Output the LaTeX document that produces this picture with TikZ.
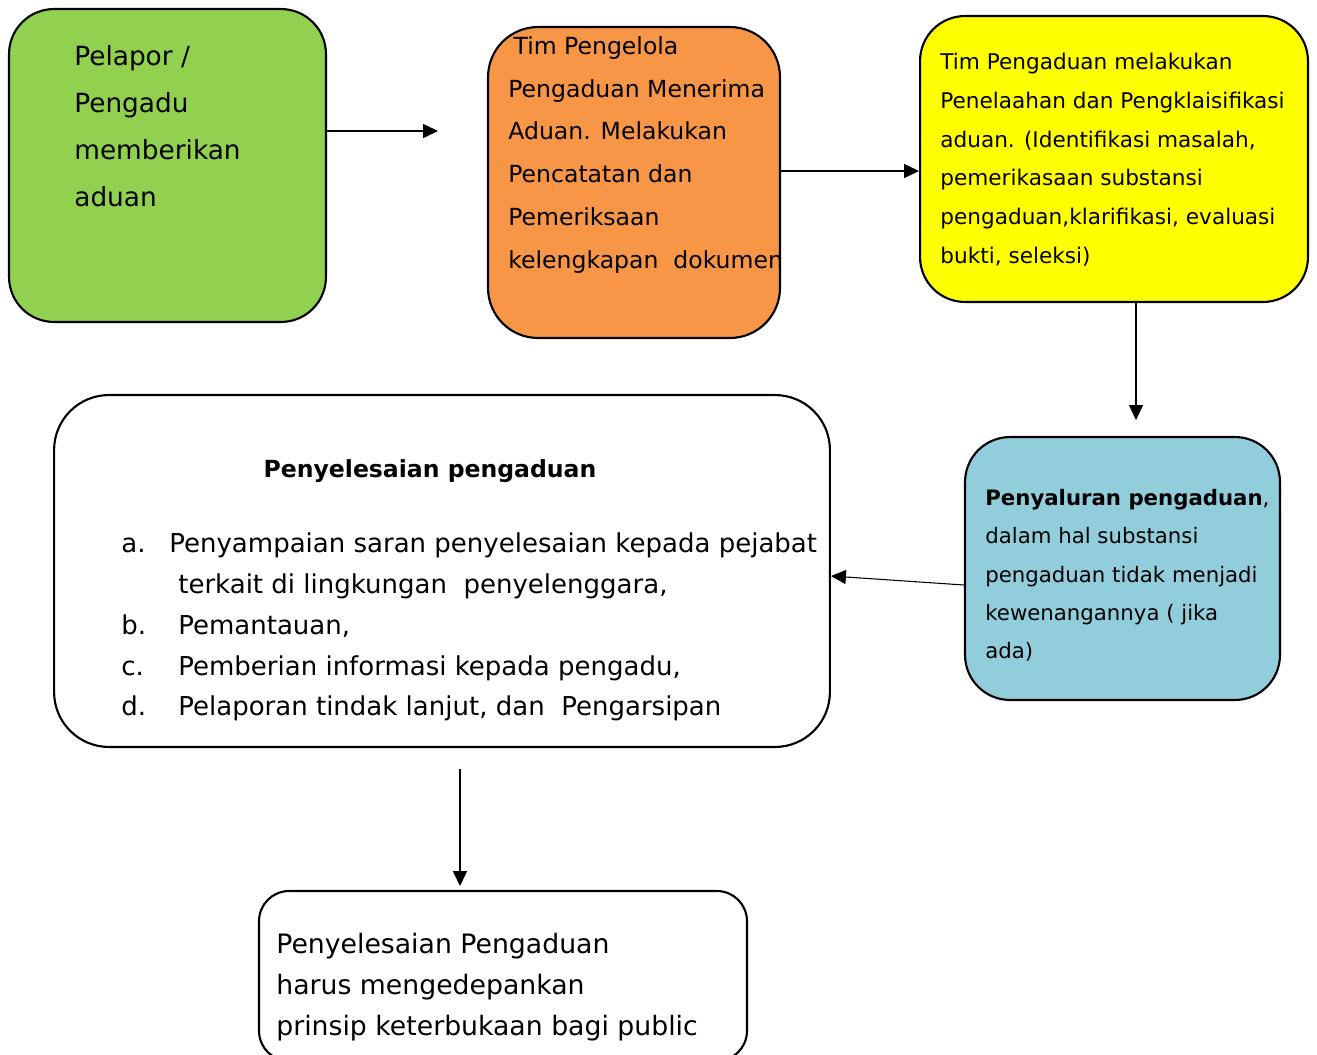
\documentclass[tikz,border=0pt]{standalone}
\usepackage{fontspec}
\setmainfont{DejaVu Sans}
\usetikzlibrary{arrows.meta,positioning,calc}
\definecolor{flowGreen}{HTML}{92D050}
\definecolor{flowOrange}{HTML}{F79646}
\definecolor{flowYellow}{HTML}{FFFF00}
\definecolor{flowBlue}{HTML}{92CDDC}
\tikzset{
  flowBox/.style={draw=black, line width=1.2pt, inner sep=0pt},
  flowText/.style={anchor=north west, inner sep=0pt, align=left},
  %% connector arrows
  flowArrow/.style={-{Triangle[length=8.5pt,width=8pt]}, line width=0.6pt},
}

\begin{document}
\begin{tikzpicture}[x=0.02cm, y=-0.02cm]
\useasboundingbox (0,0) rectangle (1317,1054);

%% boxes
\node[flowBox, fill=flowGreen, rounded corners=0.9cm,
  minimum width=6.34cm, minimum height=6.26cm] (nPelapor) at (167.5,165.5) {};
\node[flowBox, fill=flowOrange, rounded corners=1.0cm,
  minimum width=5.84cm, minimum height=6.22cm] (nTim) at (634,182.5) {};
\node[flowBox, fill=flowYellow, rounded corners=0.9cm,
  minimum width=7.76cm, minimum height=5.72cm] (nTelaah) at (1114,159) {};
\node[flowBox, fill=flowBlue, rounded corners=0.9cm,
  minimum width=6.30cm, minimum height=5.26cm] (nSalur) at (1122.5,568.5) {};
\node[flowBox, fill=white, rounded corners=1.1cm,
  minimum width=15.52cm, minimum height=7.04cm] (nSelesai) at (442,571) {};
\node[flowBox, fill=white, rounded corners=0.6cm,
  minimum width=9.76cm, minimum height=3.4cm] (nPrinsip) at (503,976) {};

%% texts
\node[flowText, font=\fontsize{15}{26.7}\selectfont] (tPelapor) at (74,45)
  {Pelapor /\\Pengadu\\memberikan\\aduan};
\node[flowText, font=\fontsize{13.4}{24.4}\selectfont] (tTim) at (508,36)
  {\hspace*{3pt}Tim Pengelola\\Pengaduan Menerima\\Aduan. Melakukan\\Pencatatan dan\\Pemeriksaan\\kelengkapan\ \ dokumen};
\node[flowText, font=\fontsize{12.3}{22}\selectfont] (tTelaah) at (940,53)
  {Tim Pengaduan melakukan\\Penelaahan dan Pengklaisifikasi\\aduan. (Identifikasi masalah,\\pemerikasaan substansi\\pengaduan,klarifikasi, evaluasi\\bukti, seleksi)};
\node[flowText, font=\fontsize{12.1}{21.8}\selectfont] (tSalur) at (985,489)
  {\textbf{Penyaluran pengaduan},\\dalam hal substansi\\pengaduan tidak menjadi\\kewenangannya ( jika\\ada)};
\node[font=\fontsize{13.4}{16}\selectfont\bfseries, inner sep=0pt] (tJudul) at (430,471)
  {Penyelesaian pengaduan};
\node[flowText, font=\fontsize{14.8}{23.2}\selectfont] (tDaftar) at (121,524)
  {\begin{tabular}{@{}p{1.14cm}@{}l@{}}
   a. & \hspace*{-0.18cm}Penyampaian saran penyelesaian kepada pejabat\\
      & terkait di lingkungan\ \ penyelenggara,\\
   b. & Pemantauan,\\
   c. & Pemberian informasi kepada pengadu,\\
   d. & Pelaporan tindak lanjut, dan\ \ Pengarsipan
   \end{tabular}};
\node[flowText, font=\fontsize{15.2}{23.2}\selectfont] (tPrinsip) at (276,933)
  {Penyelesaian Pengaduan\\harus mengedepankan\\prinsip keterbukaan bagi public};

%% connectors
\coordinate (cOne) at (438,131);
\coordinate (cTwo) at (850,171);
\coordinate (cThree) at (1136,420);
\coordinate (cFourA) at (965,585);
\coordinate (cFourB) at (830,576);
\coordinate (cFiveA) at (460,769);
\coordinate (cFiveB) at (460,886);
\draw[flowArrow] (nPelapor.east |- cOne) -- (cOne);
\draw[flowArrow] (nTim.east |- cTwo) -- (nTelaah.west |- cTwo);
\draw[flowArrow] (nTelaah.south -| cThree) -- (cThree);
\draw[flowArrow] (nSalur.west |- cFourA) -- (nSelesai.east |- cFourB);
\draw[flowArrow] (cFiveA) -- (cFiveB);
\end{tikzpicture}
\end{document}
